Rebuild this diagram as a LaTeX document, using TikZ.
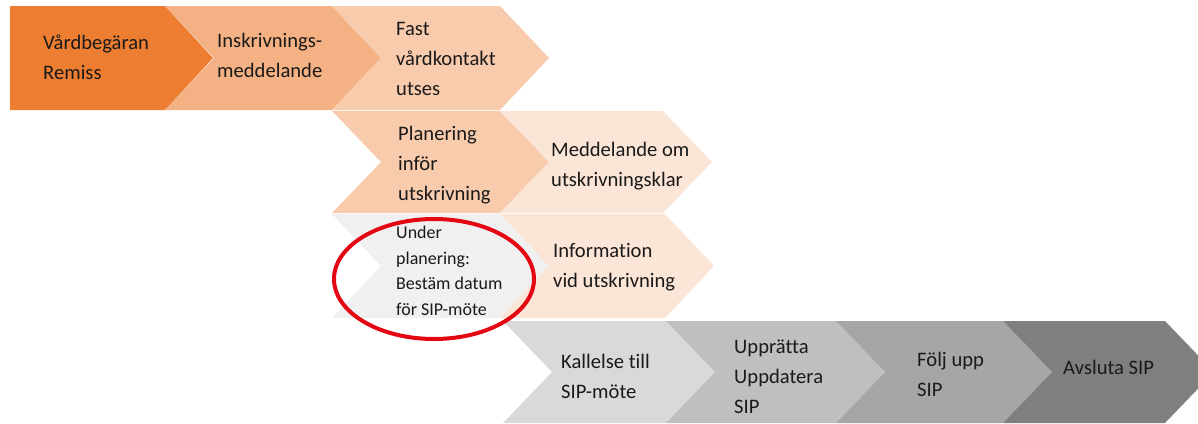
\documentclass[tikz,border=0pt]{standalone}
\usepackage{fontspec}
\setmainfont{Carlito}[Ligatures={NoCommon}]
\begin{document}
\begin{tikzpicture}[x=1pt,y=-1pt,
  lbl/.style={anchor=west,align=left,inner sep=0pt,text=txt,
    font=\fontsize{20.6}{30}\selectfont},
  small/.style={lbl,font=\fontsize{18}{25.5}\selectfont}]
\definecolor{or1}{HTML}{ED7D31}
\definecolor{or2}{HTML}{F4B183}
\definecolor{or3}{HTML}{F8CBAD}
\definecolor{or4}{HTML}{FBE5D6}
\definecolor{gr0}{HTML}{F0F0F0}
\definecolor{gr1}{HTML}{D9D9D9}
\definecolor{gr2}{HTML}{BFBFBF}
\definecolor{gr3}{HTML}{A6A6A6}
\definecolor{gr4}{HTML}{7F7F7F}
\definecolor{txt}{HTML}{1A1A1A}
\definecolor{ringred}{HTML}{E30613}
\def\tipw{49}
% chevron: fill colour, left x, right x, top y, bottom y
\newcommand\chev[5]{%
  \fill[#1] (#2,#4) -- (#3,#4) -- ({#3+\tipw},{(#4+#5)/2}) -- (#3,#5)
    -- (#2,#5) -- ({#2+\tipw},{(#4+#5)/2}) -- cycle;}
\useasboundingbox (0,0) rectangle (1198,423);
\begin{scope}
\clip (0,0) rectangle (1198,423);
% row 1
\fill[or1] (10,6) -- (165,6) -- (213,58) -- (165,110) -- (10,110) -- cycle;
\chev{or2}{165}{332}{6}{110}
\chev{or3}{332}{500}{6}{110}
% row 2
\chev{or3}{332}{500}{111}{213}
\chev{or4}{500}{663}{111}{213}
% row 3
\chev{gr0}{332}{500}{214}{318}
\chev{or4}{500}{665}{214}{318}
% row 4
\chev{gr1}{503}{666}{321}{423}
\chev{gr2}{666}{836}{321}{423}
\chev{gr3}{836}{1003}{321}{423}
\chev{gr4}{1003}{1165}{321}{423}
\end{scope}
% labels
\node[lbl] (vard) at (43,57) {Vårdbegäran\\Remiss};
\node[lbl] (insk) at (217,55) {Inskrivnings-\\meddelande};
\node[lbl] (fast) at (396,59) {Fast\\vårdkontakt\\utses};
\node[lbl] (plan) at (398,165) {Planering\\inför\\utskrivning};
\node[lbl] (medd) at (551,166) {Meddelande om\\utskrivningsklar};
\node[small] (under) at (396,271) {Under\\planering:\\Bestäm datum\\för SIP-möte};
\node[lbl] (info) at (553,267) {Information\\vid utskrivning};
\node[lbl] (kall) at (561,376) {Kallelse till\\SIP-möte};
\node[lbl] (uppr) at (734,377) {Upprätta\\Uppdatera\\SIP};
\node[lbl] (folj) at (917,374) {Följ upp\\SIP};
\node[lbl] (avsl) at (1063,367) {Avsluta SIP};
% highlight round the date step
\draw[ringred,line width=4pt] (434,279) ellipse [x radius=100, y radius=60];
\end{tikzpicture}
\end{document}
